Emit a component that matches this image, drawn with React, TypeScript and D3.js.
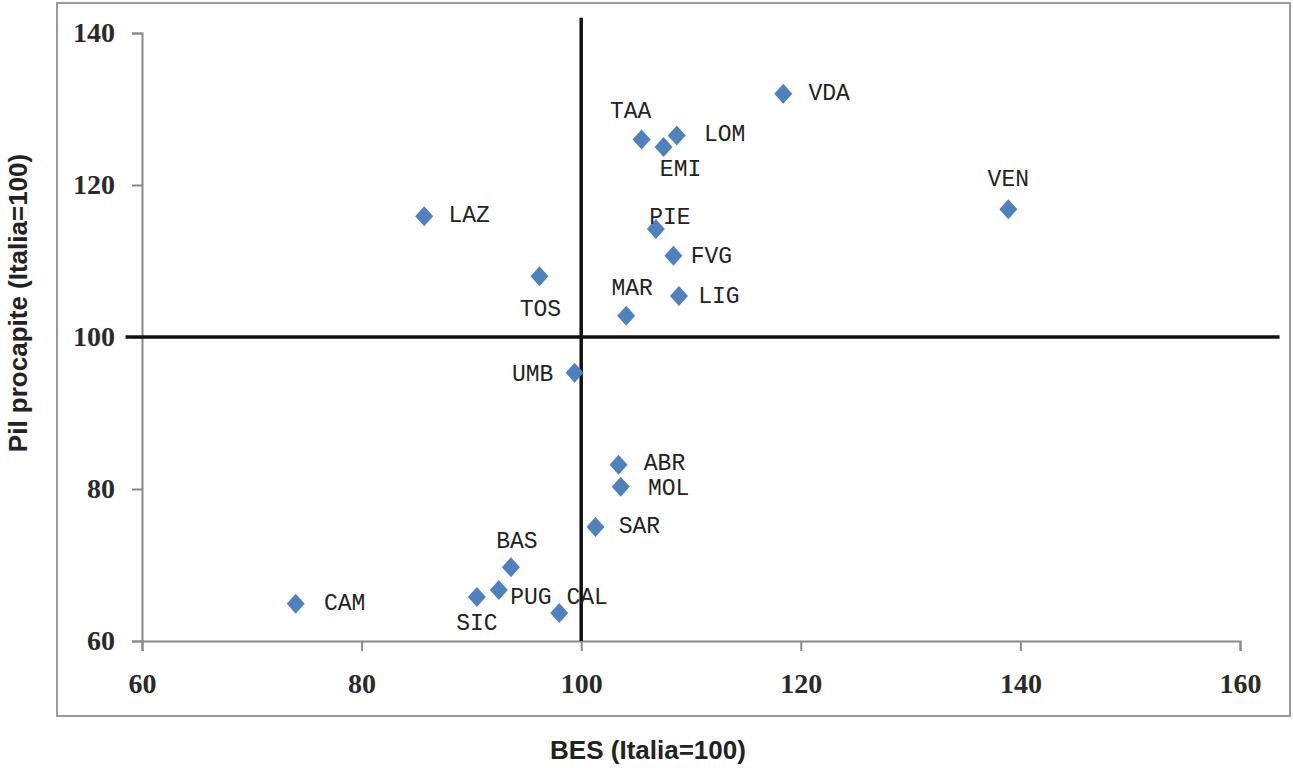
import { useEffect, useRef } from 'react'
import * as d3 from 'd3'

// Regions: BES index (x) vs Pil procapite (y), Italia = 100
const regions = ['VDA', 'TAA', 'LOM', 'EMI', 'VEN', 'LAZ', 'PIE', 'FVG', 'TOS', 'LIG', 'MAR', 'UMB', 'ABR', 'MOL', 'SAR', 'BAS', 'PUG', 'SIC', 'CAL', 'CAM']
const besValues = [118.4, 105.5, 108.7, 107.5, 138.9, 85.7, 106.8, 108.4, 96.2, 108.9, 104.1, 99.4, 103.4, 103.6, 101.3, 93.6, 92.5, 90.5, 98.0, 74.0]
const pilValues = [132.0, 126.0, 126.5, 125.0, 116.8, 115.9, 114.2, 110.7, 108.0, 105.4, 102.8, 95.3, 83.2, 80.3, 75.0, 69.7, 66.7, 65.8, 63.7, 64.9]

const xTicks = [60, 80, 100, 120, 140, 160]
const yTicks = [60, 80, 100, 120, 140]

const xTitle = 'BES (Italia=100)'
const yTitle = 'Pil procapite (Italia=100)'

// label offset (px) from the marker centre
const labelOffset: Record<string, [number, number]> = {
  VDA: [46, 0], TAA: [-11, -27], LOM: [48, -1], EMI: [17, 23], VEN: [0, -29],
  LAZ: [45, 0], PIE: [14, -11], FVG: [38, 1], TOS: [1, 34], LIG: [40, 1],
  MAR: [6, -27], UMB: [-42, 2], ABR: [46, -1], MOL: [48, 2], SAR: [44, 0],
  BAS: [6, -25], PUG: [32, 8], SIC: [0, 27], CAL: [28, -15], CAM: [49, 0],
}

export default function App() {
  const svgRef = useRef<SVGSVGElement>(null)

  useEffect(() => {
    const svgEl = svgRef.current
    if (!svgEl) return
    const width = 1293
    const height = 768

    const x = d3.scaleLinear().domain([60, 160]).range([142, 1240])
    const y = d3.scaleLinear().domain([60, 140]).range([641, 33])

    const svg = d3.select(svgEl)
    svg.attr('width', width).attr('height', height).selectAll('*').remove()

    svg.append('rect').attr('width', width).attr('height', height).style('fill', '#fff')

    // outer frame
    svg.append('rect')
      .attr('x', 57).attr('y', 3).attr('width', 1233).attr('height', 713)
      .style('fill', 'none').style('stroke', '#9a9a9a').style('stroke-width', '2')

    const tickFont = '"Liberation Serif", serif'
    const gray = '#8a8a8a'

    // Y axis
    const yAxisG = svg.append('g').attr('transform', `translate(${x(60)},0)`)
    yAxisG.call(d3.axisLeft(y).tickValues(yTicks).tickSize(10).tickPadding(17).tickFormat(d => `${d}`))
    yAxisG.select('.domain').style('stroke', gray).style('stroke-width', '2')
    yAxisG.selectAll('.tick line').style('stroke', gray).style('stroke-width', '2')
    yAxisG.selectAll('text')
      .style('fill', '#2a2a2a').style('font-size', '28px').style('font-weight', 'bold')
      .style('font-family', tickFont)

    // X axis
    const xAxisG = svg.append('g').attr('transform', `translate(0,${y(60)})`)
    xAxisG.call(d3.axisBottom(x).tickValues(xTicks).tickSize(10).tickPadding(22).tickFormat(d => `${d}`))
    xAxisG.select('.domain').style('stroke', gray).style('stroke-width', '2')
    xAxisG.selectAll('.tick line').style('stroke', gray).style('stroke-width', '2')
    xAxisG.selectAll('text')
      .style('fill', '#2a2a2a').style('font-size', '28px').style('font-weight', 'bold')
      .style('font-family', tickFont)

    // quadrant lines at 100
    svg.append('line')
      .attr('x1', x(100)).attr('x2', x(100)).attr('y1', y(142)).attr('y2', y(60))
      .style('stroke', '#111').style('stroke-width', '3.5')
    svg.append('line')
      .attr('x1', x(58.5)).attr('x2', x(163.6)).attr('y1', y(100)).attr('y2', y(100))
      .style('stroke', '#111').style('stroke-width', '3.5')

    // points
    const diamond = (cx: number, cy: number) => {
      const p = d3.path()
      p.moveTo(cx, cy - 10)
      p.lineTo(cx + 9, cy)
      p.lineTo(cx, cy + 10)
      p.lineTo(cx - 9, cy)
      p.closePath()
      return p.toString()
    }

    const g = svg.append('g')
    regions.forEach((r, i) => {
      const cx = x(besValues[i])
      const cy = y(pilValues[i])
      g.append('path').attr('d', diamond(cx, cy)).style('fill', '#4f81bd')
      const [dx, dy] = labelOffset[r]
      g.append('text')
        .attr('x', cx + dx).attr('y', cy + dy)
        .attr('text-anchor', 'middle').attr('dominant-baseline', 'central')
        .style('font-family', '"Liberation Mono", monospace')
        .style('font-size', '23px')
        .style('fill', '#222')
        .text(r)
    })

    // axis titles
    svg.append('text')
      .attr('x', 648).attr('y', 750)
      .attr('text-anchor', 'middle').attr('dominant-baseline', 'central')
      .style('font-family', '"Liberation Sans", Arial, sans-serif')
      .style('font-weight', 'bold').style('font-size', '26px').style('fill', '#222')
      .text(xTitle)

    svg.append('text')
      .attr('transform', `translate(18,303) rotate(-90)`)
      .attr('text-anchor', 'middle').attr('dominant-baseline', 'central')
      .style('font-family', '"Liberation Sans", Arial, sans-serif')
      .style('font-weight', 'bold').style('font-size', '26px').style('fill', '#222')
      .text(yTitle)
  }, [])

  return (
    <div style={{ position: 'absolute', left: 0, top: 0 }}>
      <svg ref={svgRef} style={{ display: 'block' }} />
    </div>
  )
}
